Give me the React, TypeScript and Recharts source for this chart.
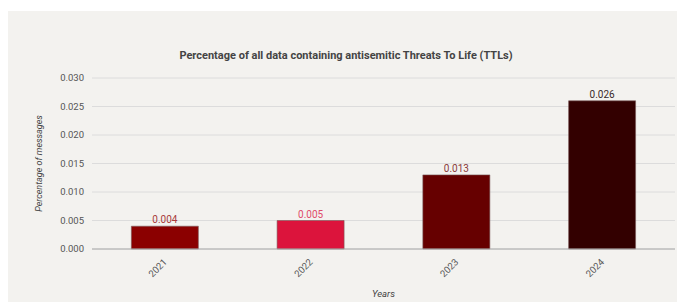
import { Bar, BarChart, CartesianGrid, Cell, LabelList, XAxis, YAxis } from "recharts"

const years = ["2021", "2022", "2023", "2024"]
const shares = [0.004, 0.005, 0.013, 0.026]
const barColors = ["#8b0000", "#dc143c", "#660000", "#330000"]
const labelColors = ["#a83a3a", "#e04a6a", "#8a3a3a", "#3a2a2a"]
const yTicks = [0, 0.005, 0.01, 0.015, 0.02, 0.025, 0.03]

const data = years.map((year, i) => ({ year, value: shares[i] }))

const font = "Roboto, 'Liberation Sans', Arial, sans-serif"

function ValueLabel(props: any) {
  const { x, y, width, index, value } = props
  return (
    <text
      x={x + width / 2}
      y={y - 3}
      textAnchor="middle"
      fontSize={10}
      fontFamily={font}
      fill={labelColors[index]}
    >
      {Number(value).toFixed(3)}
    </text>
  )
}

export default function App() {
  return (
    <div
      style={{
        position: "relative",
        marginTop: 3,
        marginLeft: -1,
        width: 678,
        height: 291,
        background: "#f3f2ef",
        fontFamily: font,
      }}
    >
      <div
        style={{
          position: "absolute",
          top: 38,
          left: 0,
          width: 678,
          textAlign: "center",
          fontSize: 11,
          fontWeight: "bold",
          color: "#444",
        }}
      >
        Percentage of all data containing antisemitic Threats To Life (TTLs)
      </div>
      <BarChart
        width={678}
        height={291}
        data={data}
        margin={{ top: 67, right: 10, bottom: 13, left: 0 }}
        barCategoryGap="27%"
      >
        <CartesianGrid vertical={false} stroke="#dcdcdc" />
        <XAxis
          dataKey="year"
          height={40}
          tickLine={false}
          axisLine={{ stroke: "#aaa" }}
          tick={{ fontSize: 9.5, fill: "#555", fontFamily: font, angle: -45, textAnchor: "end", dy: 1, dx: -2 }}
          label={{
            value: "Years",
            position: "insideBottom",
            offset: -8,
            fontSize: 9.5,
            fontStyle: "italic",
            fill: "#444",
            fontFamily: font,
          }}
        />
        <YAxis
          width={85}
          domain={[0, 0.03]}
          ticks={yTicks}
          tickLine={false}
          axisLine={false}
          tickFormatter={(v: number) => v.toFixed(3)}
          tick={{ fontSize: 9.5, fill: "#555", fontFamily: font }}
          label={{
            value: "Percentage of messages",
            angle: -90,
            position: "insideLeft",
            offset: 32,
            style: { textAnchor: "middle" },
            fontSize: 9,
            fontStyle: "italic",
            fill: "#444",
            fontFamily: font,
          }}
        />
        <Bar dataKey="value" isAnimationActive={false} stroke="#7a5a5a" strokeWidth={0.6}>
          {data.map((d, i) => (
            <Cell key={d.year} fill={barColors[i]} />
          ))}
          <LabelList dataKey="value" content={ValueLabel} />
        </Bar>
      </BarChart>
    </div>
  )
}
